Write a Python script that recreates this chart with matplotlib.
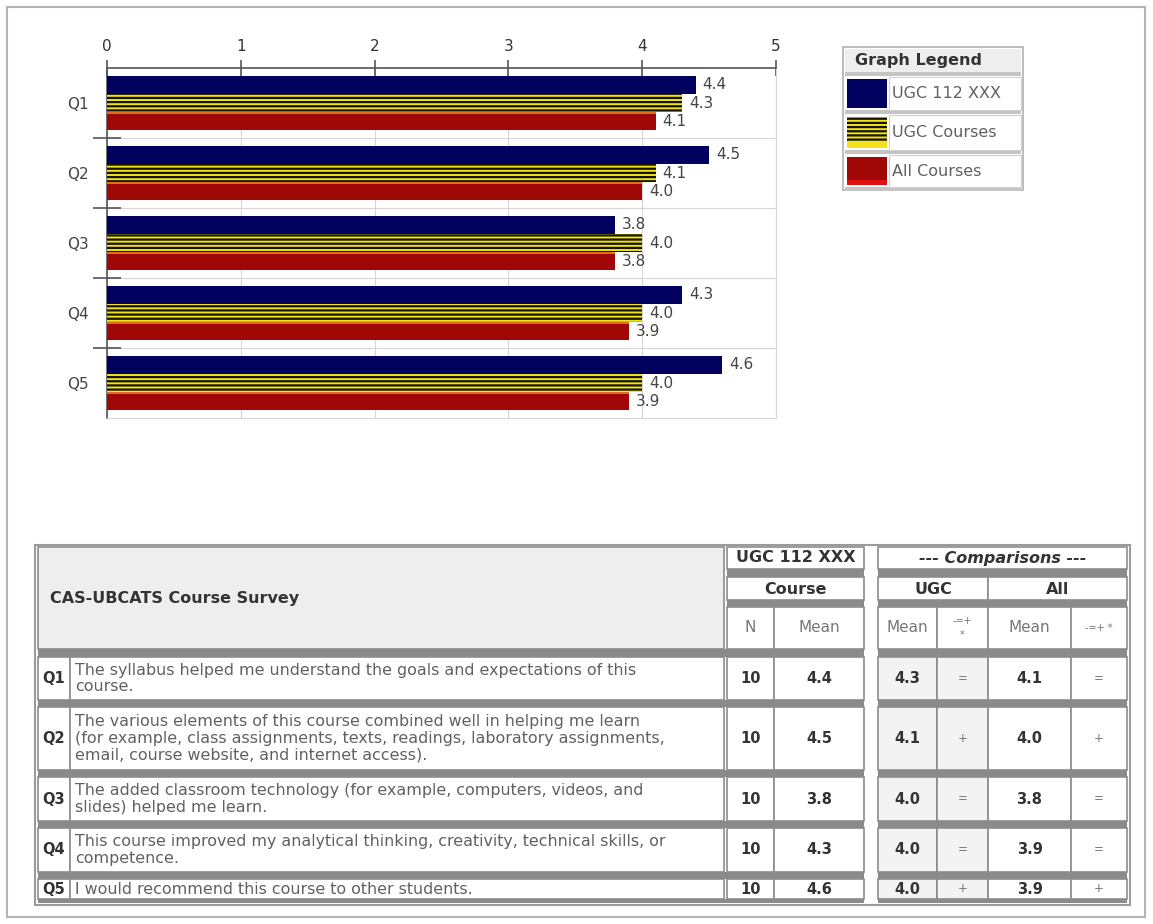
import matplotlib
matplotlib.use('Agg')
import numpy as np
import matplotlib.pyplot as plt
from matplotlib.patches import Rectangle

# ---- data -------------------------------------------------------------
questions = ['Q1', 'Q2', 'Q3', 'Q4', 'Q5']
course_mean = [4.4, 4.5, 3.8, 4.3, 4.6]
ugc_mean = [4.3, 4.1, 4.0, 4.0, 4.0]
all_mean = [4.1, 4.0, 3.8, 3.9, 3.9]
n_resp = [10, 10, 10, 10, 10]
ugc_cmp = ['=', '+', '=', '=', '+']
all_cmp = ['=', '+', '=', '=', '+']
question_text = [
    'The syllabus helped me understand the goals and expectations of this\ncourse.',
    'The various elements of this course combined well in helping me learn\n'
    '(for example, class assignments, texts, readings, laboratory assignments,\n'
    'email, course website, and internet access).',
    'The added classroom technology (for example, computers, videos, and\nslides) helped me learn.',
    'This course improved my analytical thinking, creativity, technical skills, or\ncompetence.',
    'I would recommend this course to other students.',
]
series_names = ['UGC 112 XXX', 'UGC Courses', 'All Courses']
x_ticks = [0, 1, 2, 3, 4, 5]

NAVY = '#00005e'
YELLOW = '#f3e31c'
RED = '#a00808'
GRID = '#d6d6d6'
LINE = '#8c8c8c'
SEP = '#8a8a8a'
TXT = '#606060'
DARK = '#333333'

plt.rcParams['font.family'] = 'DejaVu Sans'
plt.rcParams['hatch.linewidth'] = 1.6

W, H = 1153, 924
fig = plt.figure(figsize=(W / 100, H / 100), dpi=100)

# pixel overlay for frame, legend and table
bg = fig.add_axes([0, 0, 1, 1])
bg.set_xlim(0, W)
bg.set_ylim(H, 0)
bg.axis('off')


def box(x0, y0, x1, y1, fc='white', ec=LINE, lw=1.2, **kw):
    bg.add_patch(Rectangle((x0, y0), x1 - x0, y1 - y0, facecolor=fc,
                           edgecolor=ec, linewidth=lw, **kw))


def txt(x, y, s, size=9.5, color=TXT, ha='center', va='center', **kw):
    bg.text(x, y, s, fontsize=size, color=color, ha=ha, va=va, **kw)


box(7, 7, 1145, 917, ec='#b4b4b4', lw=1.5)

# ---- bar chart ----------------------------------------------------------
ax = fig.add_axes([107 / W, 1 - 418 / H, (776 - 107) / W, (418 - 68) / H])
y = np.arange(len(questions))
h = 0.26
ax.barh(y - h, course_mean, height=h, color=NAVY, zorder=3)
ax.barh(y, ugc_mean, height=h, color=YELLOW, edgecolor='#141400',
        hatch='----', linewidth=0, zorder=3)
ax.barh(y + h, all_mean, height=h, color=RED, zorder=3)
# thin orange rim on top of the red bars
ax.barh(y + h / 2 + 0.015, all_mean, height=0.03, color='#e07020', zorder=3)
for off, vals in [(-h, course_mean), (0, ugc_mean), (h, all_mean)]:
    for yi, v in zip(y, vals):
        ax.text(v + 0.05, yi + off, f'{v:.1f}', va='center', ha='left',
                fontsize=11, color='#444444', zorder=4)

ax.set_xlim(0, 5)
ax.set_ylim(4.5, -0.5)
ax.xaxis.tick_top()
ax.set_xticks(x_ticks)
ax.tick_params(axis='x', direction='inout', length=12, width=1.2,
               color='#555555', labelsize=11, labelcolor=DARK, pad=4)
ax.set_yticks(y, questions)
ax.set_yticks(y[:-1] + 0.5, minor=True)
ax.tick_params(axis='y', which='major', length=0, labelsize=11,
               labelcolor='#444444', pad=13)
ax.tick_params(axis='y', which='minor', direction='inout', length=20,
               width=1.2, color='#555555')
ax.grid(False)
ax.grid(axis='x', which='major', color=GRID, lw=0.8, zorder=0)
ax.grid(axis='y', which='minor', color=GRID, lw=0.8, zorder=0)
ax.set_axisbelow(True)
for s in ['top', 'left']:
    ax.spines[s].set_color('#555555')
    ax.spines[s].set_linewidth(1.2)
for s in ['right', 'bottom']:
    ax.spines[s].set_color(GRID)
    ax.spines[s].set_linewidth(0.8)

# ---- legend ------------------------------------------------------------
box(843, 47, 1023, 190, ec='#b0b0b0')
box(845, 49, 1021, 72, fc='#eeeeee', ec='none', lw=0)
txt(855, 60, 'Graph Legend', size=11.5, color=DARK, ha='left', weight='bold')
for yb in [72, 110, 150, 187]:
    box(845, yb, 1021, yb + 4, fc='#c4c4c4', ec='none', lw=0)
rows_leg = [(77, 110), (115, 150), (155, 187)]
for i, (y0, y1) in enumerate(rows_leg):
    box(889, y0, 1021, y1, ec='#d0d0d0', lw=0.8)
    txt(892, (y0 + y1) / 2, series_names[i], size=11.5, color=TXT, ha='left')
box(847, 79, 887, 108, fc=NAVY, ec='none', lw=0)
box(847, 117, 887, 142, fc=YELLOW, ec='#141400', lw=0, hatch='----')
box(847, 142, 887, 148, fc=YELLOW, ec='none', lw=0)
box(847, 157, 887, 180, fc=RED, ec='none', lw=0)
box(847, 180, 887, 185, fc='#e01010', ec='none', lw=0)

# ---- table -------------------------------------------------------------
box(35, 545, 1130, 905, ec='#9a9a9a', lw=1.5)

xl0, xq, xt1 = 38, 70, 724            # Q label col, text col
xa = [727, 774, 864]                  # N | Mean (course block)
xb = [878, 937, 988, 1071, 1127]      # UGC mean | cmp | All mean | cmp
blockA = (38, 864)
blockB = (878, 1127)


def sep(y0, y1, spans):
    for x0, x1 in spans:
        box(x0, y0, x1, y1, fc=SEP, ec='none', lw=0)


# header
box(xl0, 547, xt1, 649, fc='#eeeeee', ec=LINE)
txt(50, 598, 'CAS-UBCATS Course Survey', size=11.5, color=DARK, ha='left',
    weight='bold')
box(xa[0], 547, xa[2], 569)
txt((xa[0] + xa[2]) / 2, 558, 'UGC 112 XXX', size=11.5, color=DARK,
    weight='bold')
box(xb[0], 547, xb[4], 569)
txt((xb[0] + xb[4]) / 2, 558, '--- Comparisons ---', size=11.5, color=DARK,
    weight='bold', style='italic')
sep(569, 577, [(xa[0], xa[2]), blockB])
box(xa[0], 577, xa[2], 600)
txt((xa[0] + xa[2]) / 2, 589, 'Course', size=11.5, color=DARK, weight='bold')
box(xb[0], 577, xb[2], 600)
txt((xb[0] + xb[2]) / 2, 589, 'UGC', size=11.5, color=DARK, weight='bold')
box(xb[2], 577, xb[4], 600)
txt((xb[2] + xb[4]) / 2, 589, 'All', size=11.5, color=DARK, weight='bold')
sep(600, 607, [(xa[0], xa[2]), blockB])
sub_cols = [(xa[0], xa[1], 'N'), (xa[1], xa[2], 'Mean'),
            (xb[0], xb[1], 'Mean'), (xb[1], xb[2], '-=+\n*'),
            (xb[2], xb[3], 'Mean'), (xb[3], xb[4], '-=+ *')]
for x0, x1, s in sub_cols:
    box(x0, 607, x1, 649)
    small = s.startswith('-')
    txt((x0 + x1) / 2, 628, s, size=7 if small else 11, color='#777777',
        linespacing=1.6)
sep(649, 657, [blockA, blockB])

row_edges = [(657, 700), (707, 770), (777, 821), (828, 872), (879, 899)]
for i, (y0, y1) in enumerate(row_edges):
    yc = (y0 + y1) / 2
    box(xl0, y0, xq, y1)
    txt((xl0 + xq) / 2, yc, questions[i], size=10.5, color=DARK,
        weight='bold')
    box(xq, y0, xt1, y1)
    txt(xq + 5, yc, question_text[i], size=11.4, color=TXT, ha='left',
        linespacing=1.15)
    cells = [(xa[0], xa[1], str(n_resp[i]), True, 'white'),
             (xa[1], xa[2], f'{course_mean[i]:.1f}', True, 'white'),
             (xb[0], xb[1], f'{ugc_mean[i]:.1f}', True, '#f3f3f3'),
             (xb[1], xb[2], ugc_cmp[i], False, '#f3f3f3'),
             (xb[2], xb[3], f'{all_mean[i]:.1f}', True, 'white'),
             (xb[3], xb[4], all_cmp[i], False, 'white')]
    for x0, x1, s, bold, fc in cells:
        box(x0, y0, x1, y1, fc=fc)
        txt((x0 + x1) / 2, yc, s, size=10.5 if bold else 8.5,
            color=DARK if bold else '#777777',
            weight='bold' if bold else 'normal')
    sep(y1, y1 + (7 if i < 4 else 4), [blockA, blockB])

fig.savefig('out.png', dpi=100)
